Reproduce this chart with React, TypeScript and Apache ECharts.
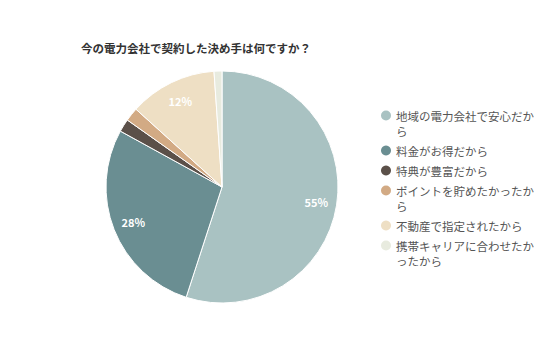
import React, { useEffect, useRef } from "react";
import * as echarts from "echarts";

const titleText = "今の電力会社で契約した決め手は何ですか？";
const categories = [
  "地域の電力会社で安心だから",
  "料金がお得だから",
  "特典が豊富だから",
  "ポイントを貯めたかったから",
  "不動産で指定されたから",
  "携帯キャリアに合わせたかったから",
];
const values = [55.0, 28.0, 1.8, 1.9, 12.2, 1.1];
const colors = ["#a9c2c2", "#6a8e92", "#5b5049", "#d2aa84", "#eedfc4", "#e8ebdf"];
// legend entries whose text wraps onto two lines (icon aligned with first line)
const twoLineItems = [true, false, false, true, false, true];

const ICON_ONE = "circle";
const ICON_TWO = "path://M5,0A5,5,0,1,1,5,10A5,5,0,1,1,5,0ZM5,25";

export default function App() {
  const ref = useRef<HTMLDivElement>(null);
  useEffect(() => {
    if (!ref.current) return;
    const chart = echarts.init(ref.current, undefined, { renderer: "svg" });
    const data = categories.map((name, i) => ({
      name,
      value: values[i],
      itemStyle: { color: colors[i] },
    }));
    chart.setOption({
      animation: false,
      title: {
        text: titleText,
        left: 81,
        top: 42,
        padding: 0,
        textStyle: {
          fontSize: 11.5,
          fontWeight: "bold",
          color: "#333",
          fontFamily: "Noto Sans CJK JP",
        },
      },
      legend: {
        orient: "vertical",
        left: 381,
        top: 108,
        padding: 0,
        itemGap: 5,
        itemWidth: 10,
        itemHeight: 25,
        data: categories.map((name, i) => ({
          name,
          icon: twoLineItems[i] ? ICON_TWO : ICON_ONE,
        })),
        itemStyle: { borderWidth: 0 },
        textStyle: {
          fontSize: 11.5,
          color: "#555",
          fontFamily: "Noto Sans CJK JP",
          width: 140,
          overflow: "break",
          lineHeight: 15,
        },
      },
      series: [
        {
          type: "pie",
          center: [222, 187],
          radius: [0, 116],
          startAngle: 90,
          clockwise: true,
          label: { show: false },
          labelLine: { show: false },
          itemStyle: { borderColor: "#fff", borderWidth: 1 },
          emphasis: { disabled: true },
          data,
        },
        {
          type: "pie",
          center: [222, 187],
          radius: [0, 185],
          startAngle: 90,
          clockwise: true,
          silent: true,
          itemStyle: { color: "rgba(0,0,0,0)" },
          emphasis: { disabled: true },
          labelLine: { show: false },
          label: {
            show: true,
            position: "inside",
            color: "#fff",
            fontSize: 11,
            fontWeight: "bold",
            fontFamily: "Noto Sans CJK JP",
            formatter: (p: any) => (p.value >= 5 ? Math.round(p.value) + "%" : ""),
          },
          data: categories.map((name, i) => ({ name, value: values[i] })),
        },
      ],
    });
    return () => chart.dispose();
  }, []);
  return (
    <div
      ref={ref}
      style={{ position: "absolute", left: 0, top: 0, width: 536, height: 357, background: "#fff" }}
    />
  );
}
